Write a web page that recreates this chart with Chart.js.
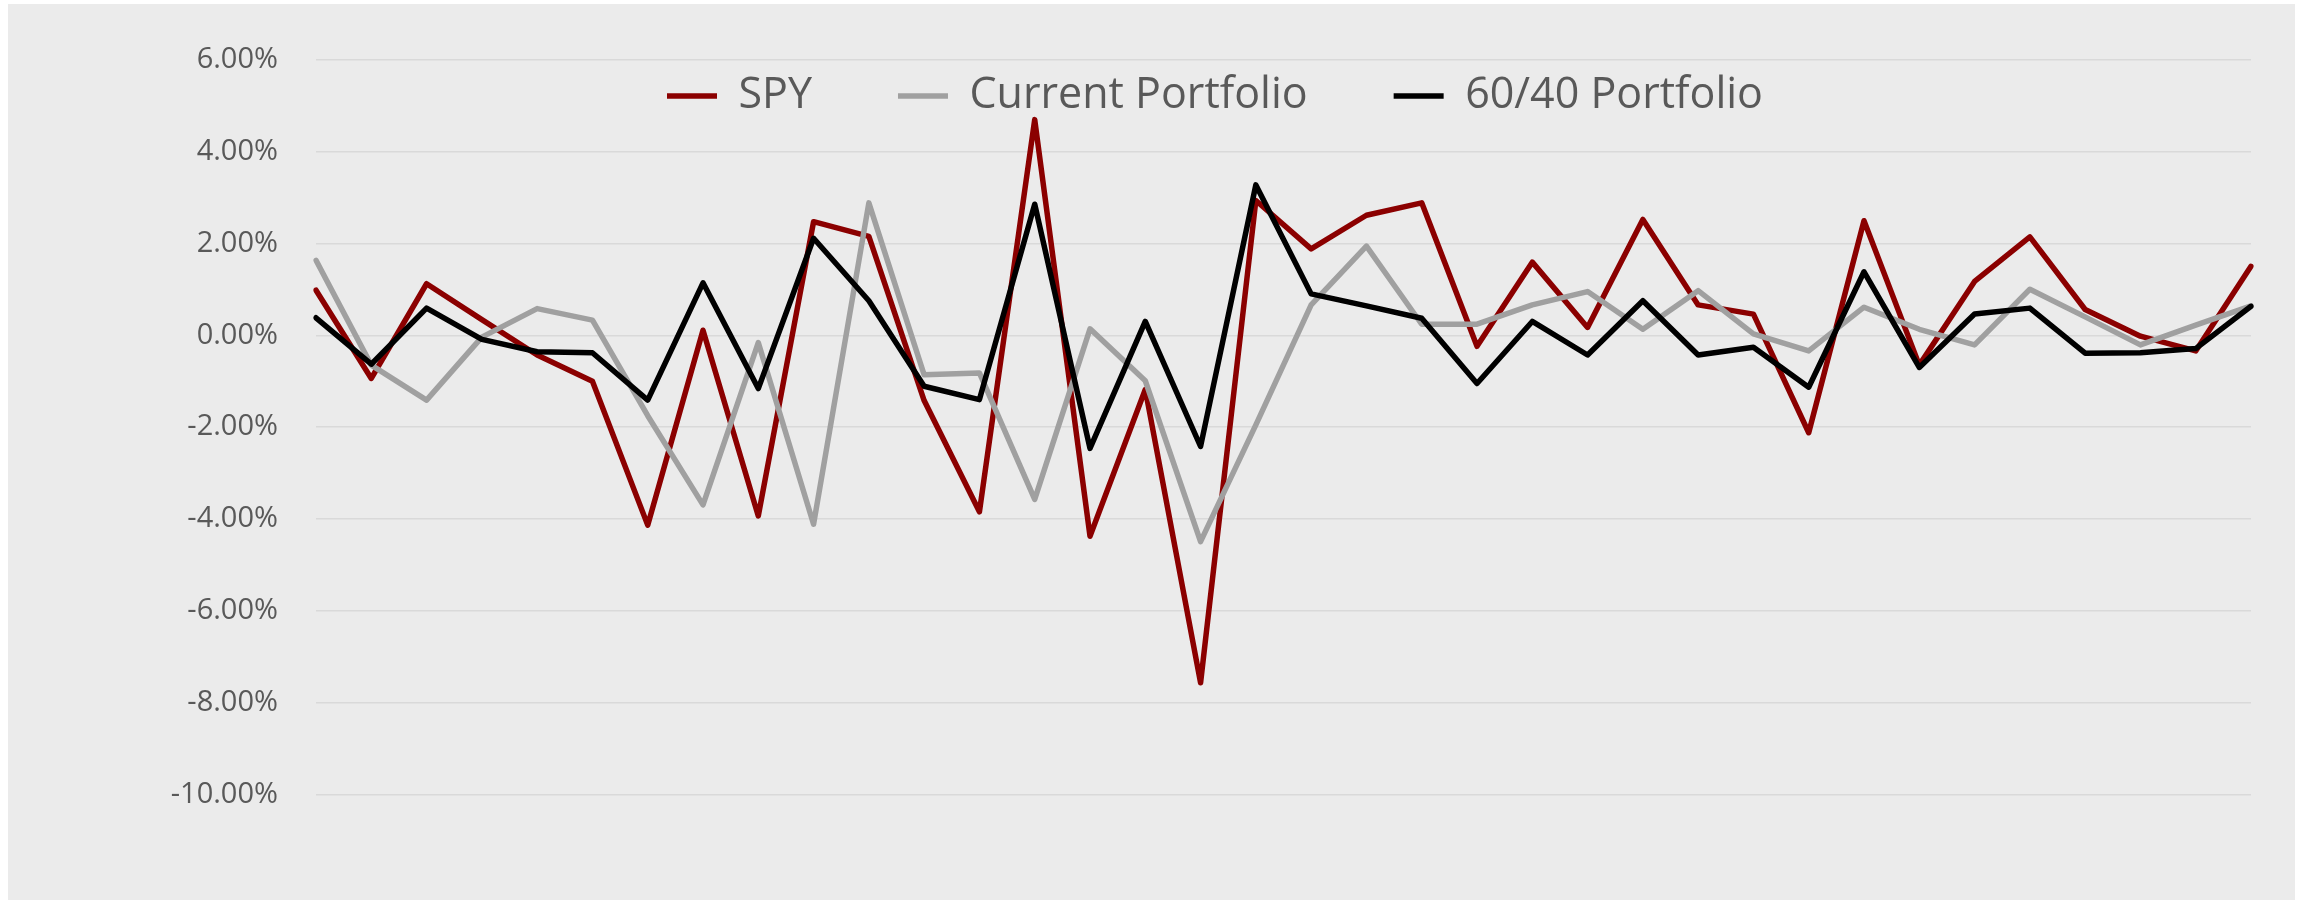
<!DOCTYPE html>
<html>
<head>
<meta charset="utf-8">
<script src="https://cdn.jsdelivr.net/npm/chart.js@4.4.1/dist/chart.umd.min.js"></script>
<style>
    html, body { margin: 0; padding: 0; background: #ffffff; }
    #chartBox {
        position: absolute;
        left: 8px;
        top: 4px;
        width: 2287px;
        height: 896px;
        background: #ebebeb;
    }
</style>
</head>
<body>
<div id="chartBox"><canvas id="returnsChart"></canvas></div>
<script>
// Periods (no labels shown on the x axis)
const periods = [1, 2, 3, 4, 5, 6, 7, 8, 9, 10, 11, 12, 13, 14, 15, 16, 17, 18,
    19, 20, 21, 22, 23, 24, 25, 26, 27, 28, 29, 30, 31, 32, 33, 34, 35, 36];

// Returns in percent
const spyReturns = [0.98, -0.94, 1.12, 0.34, -0.43, -1.00, -4.13, 0.11, -3.93, 2.47,
    2.15, -1.42, -3.84, 4.69, -4.37, -1.18, -7.56, 2.93, 1.88, 2.61,
    2.88, -0.24, 1.59, 0.17, 2.52, 0.66, 0.46, -2.12, 2.49, -0.65,
    1.17, 2.14, 0.56, -0.02, -0.34, 1.50];

const currentReturns = [1.63, -0.65, -1.41, -0.04, 0.58, 0.33, -1.75, -3.69, -0.16, -4.11,
    2.88, -0.86, -0.82, -3.57, 0.14, -0.99, -4.49, -1.95, 0.66, 1.94,
    0.24, 0.24, 0.66, 0.95, 0.13, 0.97, 0.03, -0.34, 0.61, 0.13,
    -0.21, 1.00, 0.40, -0.21, 0.22, 0.64];

const sixtyFortyReturns = [0.38, -0.63, 0.59, -0.09, -0.36, -0.38, -1.41, 1.14, -1.16, 2.11,
    0.75, -1.11, -1.40, 2.85, -2.46, 0.30, -2.42, 3.27, 0.90, 0.64,
    0.37, -1.05, 0.30, -0.43, 0.75, -0.43, -0.26, -1.13, 1.38, -0.70,
    0.46, 0.59, -0.39, -0.38, -0.29, 0.63];

// Y axis range
const yMin = -10;
const yMax = 6;
const yStep = 2;

const textColor = '#595959';
const legendFontSize = 43;
const legendGap = 86;
Chart.defaults.font.family = "'Open Sans', 'Noto Sans', sans-serif";
Chart.defaults.color = textColor;

// Move the legend so it sits over the top of the plot, like the original
const legendPlacer = {
    id: 'legendPlacer',
    afterLayout(chart) {
        const legend = chart.legend;
        legend.left = 659 - legendGap;
        legend.right = legend.left + 1600;
        legend.top = 92 - legendGap - legendFontSize / 2;
        legend.bottom = legend.top + legendGap * 2 + legendFontSize + 20;
    }
};

function makeLine(label, data, color, order) {
    return {
        label: label,
        data: data,
        borderColor: color,
        backgroundColor: color,
        borderWidth: 5.5,
        borderCapStyle: 'round',
        borderJoinStyle: 'round',
        pointRadius: 0,
        pointHoverRadius: 0,
        tension: 0,
        fill: false,
        order: order
    };
}

const ctx = document.getElementById('returnsChart').getContext('2d');
const returnsChart = new Chart(ctx, {
    type: 'line',
    data: {
        labels: periods,
        datasets: [
            makeLine('SPY', spyReturns, '#8b0000', 3),
            makeLine('Current Portfolio', currentReturns, '#a0a0a0', 2),
            makeLine('60/40 Portfolio', sixtyFortyReturns, '#000000', 1)
        ]
    },
    options: {
        responsive: true,
        maintainAspectRatio: false,
        animation: false,
        layout: {
            padding: { left: 0, right: 44, top: 52, bottom: 105 }
        },
        plugins: {
            legend: {
                position: 'top',
                align: 'start',
                maxHeight: 1,
                labels: {
                    usePointStyle: true,
                    pointStyle: 'line',
                    pointStyleWidth: 50,
                    padding: legendGap,
                    color: textColor,
                    font: { size: legendFontSize },
                    sort: (a, b) => a.datasetIndex - b.datasetIndex
                }
            },
            tooltip: { enabled: false }
        },
        scales: {
            x: {
                display: false,
                offset: false
            },
            y: {
                min: yMin,
                max: yMax,
                afterFit: scale => { scale.width = 308; },
                ticks: {
                    stepSize: yStep,
                    padding: 38,
                    color: textColor,
                    font: { size: 29 },
                    callback: value => `${value.toFixed(2)}%`
                },
                grid: {
                    color: '#d9d9d9',
                    lineWidth: 1.5,
                    drawTicks: false
                },
                border: { display: false }
            }
        }
    },
    plugins: [legendPlacer]
});
</script>
</body>
</html>
